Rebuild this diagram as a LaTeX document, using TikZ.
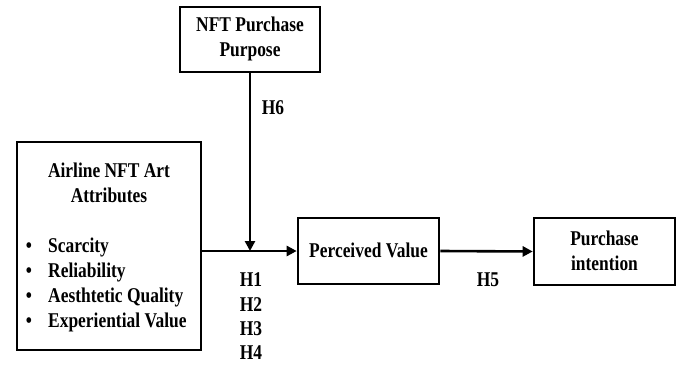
\documentclass[tikz,border=0pt]{standalone}
\usepackage{fontspec}
\setmainfont[FakeStretch=0.83]{Liberation Serif}
\usetikzlibrary{arrows.meta}
\begin{document}
\begin{tikzpicture}[x=1pt,y=-1pt,
  box/.style={draw,line width=2.6pt,inner sep=0pt},
  lab/.style={font=\fontsize{21}{25}\selectfont\bfseries,inner sep=0pt,text height=14pt,text depth=4pt},
  conn/.style={line width=2.6pt,-{Triangle[length=10pt,width=10pt]}}]
\useasboundingbox (0,0) rectangle (679,366);
\node[box,minimum width=184pt,minimum height=208pt] (attr) at (109,246) {};
\node[box,minimum width=140pt,minimum height=65pt] (nft) at (250,39.5) {};
\node[box,minimum width=141pt,minimum height=66pt] (pv) at (368.5,251) {};
\node[box,minimum width=141pt,minimum height=67pt] (pi) at (604.5,251.5) {};
% texts
\node[lab] (t1) at (109,172) {Airline NFT Art};
\node[lab] (t2) at (109,197) {Attributes};
\node[lab,anchor=west] (b1) at (48,247) {Scarcity};
\node[lab,anchor=west] (b2) at (48,272) {Reliability};
\node[lab,anchor=west] (b3) at (48,297) {Aesthtetic Quality};
\node[lab,anchor=west] (b4) at (48,322) {Experiential Value};
\foreach \yy/\nm in {247/d1,272/d2,297/d3,322/d4}
  \node[lab] (\nm) at (29,\yy) {\textbullet};
\node[lab] (n1) at (250,27) {NFT Purchase};
\node[lab] (n2) at (250,52) {Purpose};
\node[lab] (pvt) at (368.5,252) {Perceived Value};
\node[lab] (p1) at (604.5,240) {Purchase};
\node[lab] (p2) at (604.5,265) {intention};
\node[lab] (h6) at (273,110) {H6};
\node[lab] (h5) at (488,281) {H5};
\node[lab] (h1) at (251,281) {H1};
\node[lab] (h2) at (251,306) {H2};
\node[lab] (h3) at (251,330) {H3};
\node[lab] (h4) at (251,354) {H4};
% connectors
\coordinate (j) at (nft.south |- pv.west);
\draw[conn] (attr.east |- pv.west) -- (pv.west);
\draw[conn] (nft.south) -- (j);
\draw[conn] (pv.east) -- (pi.west);
\end{tikzpicture}
\end{document}
